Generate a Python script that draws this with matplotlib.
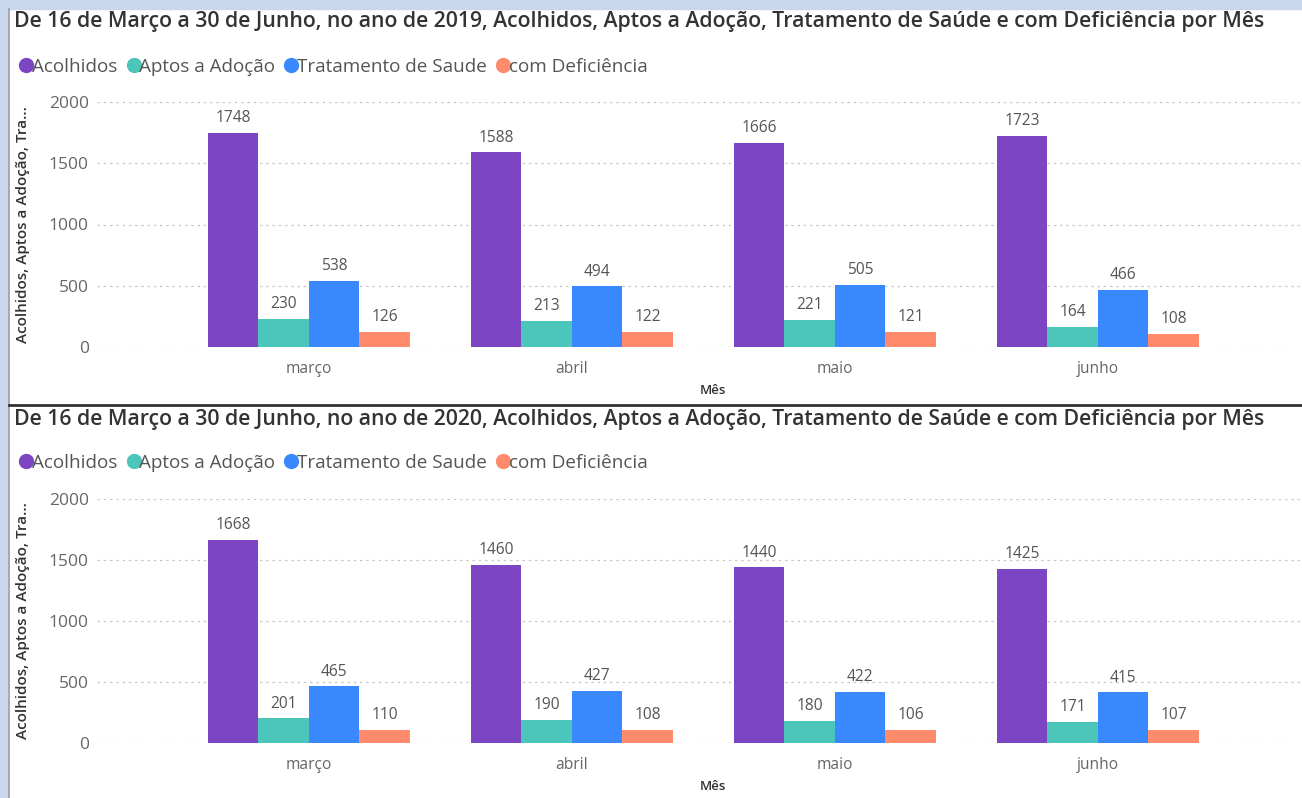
import numpy as np
import matplotlib
matplotlib.use("Agg")
import matplotlib.pyplot as plt
from matplotlib.lines import Line2D
from matplotlib.patches import Rectangle

plt.rcParams['font.family'] = ['Open Sans', 'DejaVu Sans']

meses = ['março', 'abril', 'maio', 'junho']
series = ['Acolhidos', 'Aptos a Adoção', 'Tratamento de Saude', 'com Deficiência']
cores = ['#7B45C4', '#4CC5BB', '#3A88FE', '#FF8A6C']

acolhidos_2019 = [1748, 1588, 1666, 1723]
aptos_2019 = [230, 213, 221, 164]
tratamento_2019 = [538, 494, 505, 466]
deficiencia_2019 = [126, 122, 121, 108]

acolhidos_2020 = [1668, 1460, 1440, 1425]
aptos_2020 = [201, 190, 180, 171]
tratamento_2020 = [465, 427, 422, 415]
deficiencia_2020 = [110, 108, 106, 107]

titulo = 'De 16 de Março a 30 de Junho, no ano de {}, Acolhidos, Aptos a Adoção, Tratamento de Saúde e com Deficiência por Mês'

W, H = 1302, 798
fig = plt.figure(figsize=(W / 100, H / 100), dpi=100)
fig.patch.set_facecolor('white')

# moldura azul clara (topo e esquerda) como no print
fig.patches.append(Rectangle((0, 1 - 9 / H), 1, 9 / H, transform=fig.transFigure,
                             color='#C8D6EE', zorder=0))
fig.patches.append(Rectangle((0, 0), 7 / W, 1, transform=fig.transFigure,
                             color='#C8D6EE', zorder=0))
fig.add_artist(Line2D([8.5 / W, 8.5 / W], [0, 1 - 9 / H], transform=fig.transFigure,
                      color='#9a9a9a', lw=1.2))
fig.add_artist(Line2D([9 / W, 1], [1 - 405 / H, 1 - 405 / H], transform=fig.transFigure,
                      color='#333333', lw=2))


def px(x, y):
    return x / W, 1 - y / H


def painel(ano, dados, y_title, y_leg, y_zero, y_top, y_xlabel):
    fig.text(*px(14, y_title), titulo.format(ano), fontsize=15.3, color='#333333',
             fontweight='semibold', va='center', ha='left')

    handles = [Line2D([], [], marker='o', ls='', color=c, markersize=10) for c in cores]
    fig.legend(handles, series, loc='center left', bbox_to_anchor=px(17, y_leg),
               ncol=4, frameon=False, fontsize=13.6, handletextpad=-0.2,
               columnspacing=0.35, handlelength=1.0, borderaxespad=0, borderpad=0,
               labelcolor='#555555')

    x0, x1 = 97, 1302
    ax = fig.add_axes([x0 / W, 1 - y_zero / H, (x1 - x0) / W, (y_zero - y_top) / H])
    x = np.arange(len(meses))
    w = 0.192
    for i, (vals, c) in enumerate(zip(dados, cores)):
        pos = x + (i - 1.5) * w
        ax.bar(pos, vals, width=w, color=c, zorder=3)
        for xb, v in zip(pos, vals):
            ax.text(xb, v + 55, str(v), ha='center', va='bottom', fontsize=11.2,
                    color='#555555', zorder=4)
    ax.set_xlim(-0.806, 3.776)
    ax.set_ylim(0, 2000)
    ax.set_yticks([0, 500, 1000, 1500, 2000])
    ax.set_xticks(x)
    ax.set_xticklabels(meses)
    ax.tick_params(length=0, labelsize=11.2, labelcolor='#666666', pad=10)
    ax.tick_params(axis='y', labelsize=12.5, pad=6)
    ax.grid(axis='y', color='#c8c8c8', ls=(0, (2, 3)), lw=0.9, zorder=0)
    for s in ax.spines.values():
        s.set_visible(False)
    ax.set_ylabel('Acolhidos, Aptos a Adoção, Tra...', fontsize=11, color='#333333',
                  fontweight='semibold')
    ax.yaxis.set_label_coords((30 - x0) / (x1 - x0), 0.5)
    fig.text(*px(713, y_xlabel), 'Mês', fontsize=9.5, color='#333333',
             fontweight='semibold', ha='center', va='center')
    return ax


painel(2019, [acolhidos_2019, aptos_2019, tratamento_2019, deficiencia_2019],
       22, 67, 347, 102, 391)
painel(2020, [acolhidos_2020, aptos_2020, tratamento_2020, deficiencia_2020],
       420, 463, 743, 499, 787)

fig.savefig('out.png', dpi=100)
